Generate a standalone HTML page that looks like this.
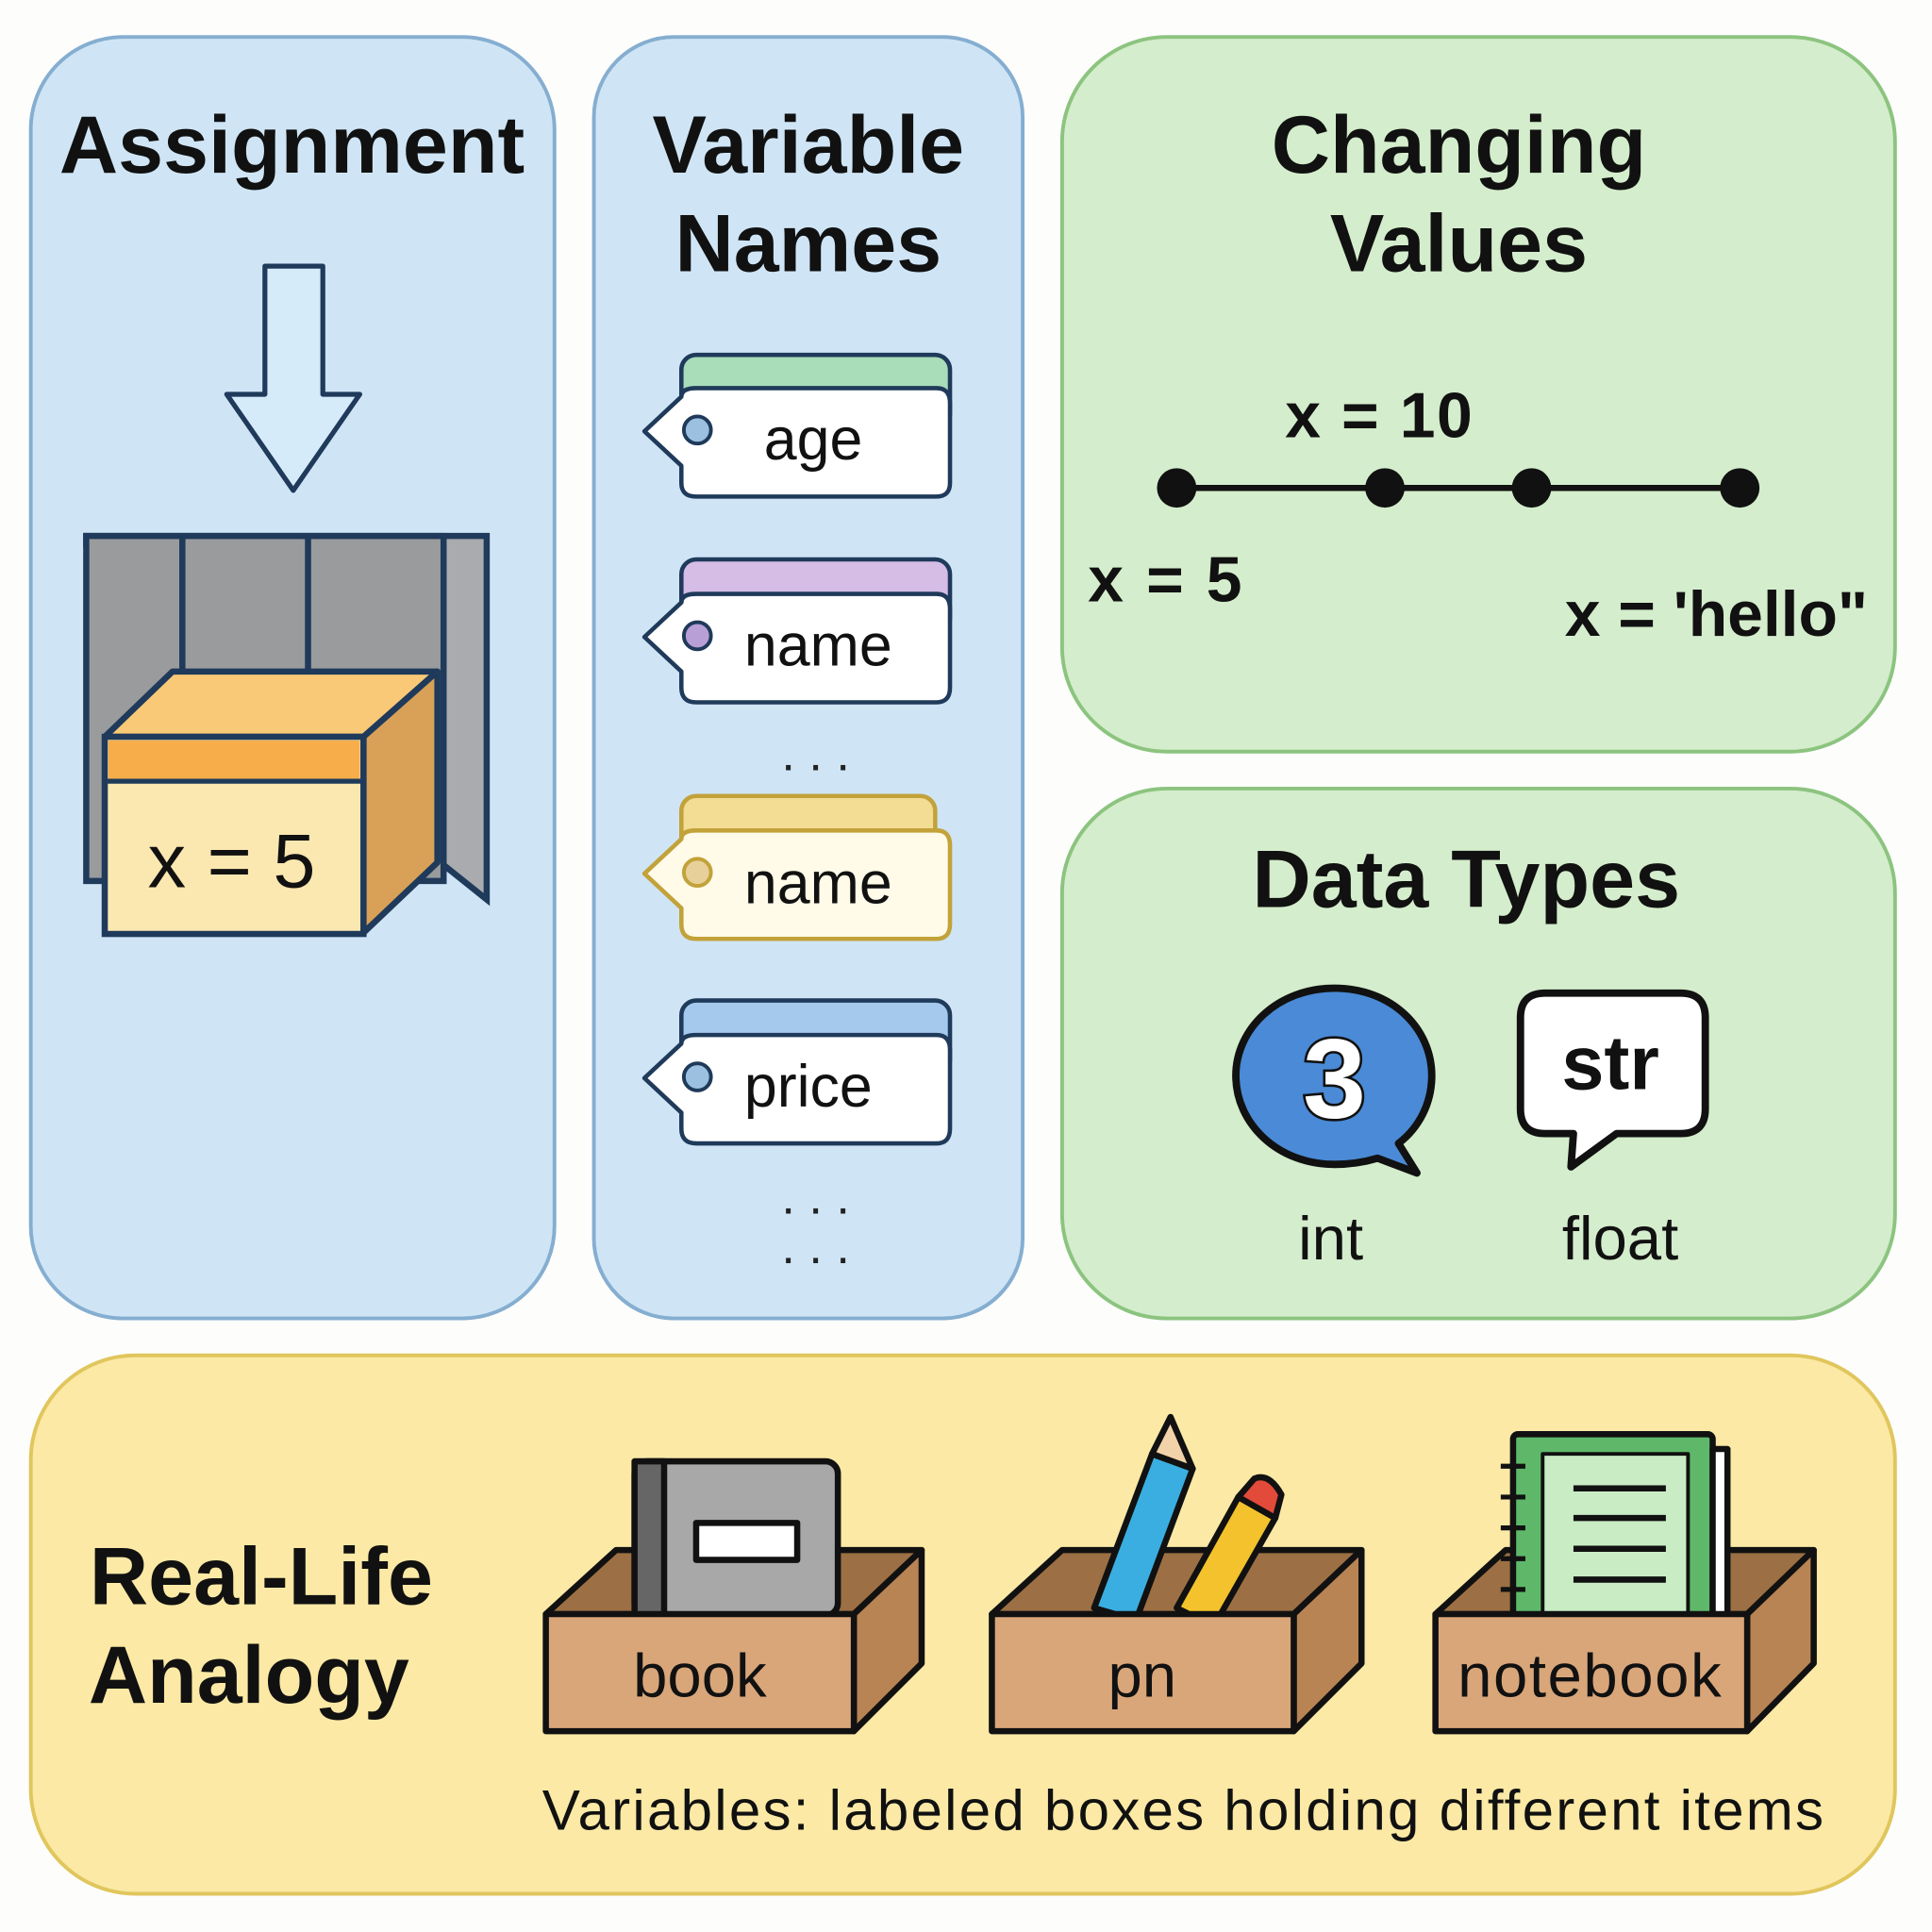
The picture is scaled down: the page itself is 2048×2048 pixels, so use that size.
<!DOCTYPE html>
<html><head><meta charset="utf-8"><style>
html,body{margin:0;padding:0;background:#fff}
svg{display:block}
text{font-family:"Liberation Sans",sans-serif}
</style></head><body>
<svg width="2048" height="2048" viewBox="0 0 1568 1568" xmlns="http://www.w3.org/2000/svg">
<rect width="1568" height="1568" fill="#fdfdfc"/>
<rect x="25" y="30" width="425" height="1040" rx="75" fill="#cfe5f6" stroke="#85aed0" stroke-width="3"/>
<rect x="482" y="30" width="348" height="1040" rx="65" fill="#cfe5f6" stroke="#85aed0" stroke-width="3"/>
<rect x="862" y="30" width="676" height="580" rx="85" fill="#d4edcc" stroke="#8cc47f" stroke-width="3"/>
<rect x="862" y="640" width="676" height="430" rx="85" fill="#d4edcc" stroke="#8cc47f" stroke-width="3"/>
<rect x="25" y="1100" width="1513" height="437" rx="85" fill="#fbe9a5" stroke="#e0c65c" stroke-width="3"/>

<g font-weight="bold" fill="#111" text-anchor="middle" font-size="66">
<text x="237" y="140">Assignment</text>
<text x="656" y="140">Variable</text>
<text x="656" y="220">Names</text>
<text x="1184" y="140">Changing</text>
<text x="1184" y="220">Values</text>
<text x="1190" y="736">Data Types</text>
<text x="212" y="1302">Real-Life</text>
<text x="202" y="1382">Analogy</text>
</g>

<path d="M215 216 H262 V320 H292 L238 398 L184 320 H215 Z" fill="#d6ebfa" stroke="#1f3a5a" stroke-width="4" stroke-linejoin="round"/>
<path d="M70 435 H395 V730 L355 698 V442 H70 Z" fill="#a9abae" stroke="#1f3a5a" stroke-width="5"/>
<rect x="70" y="435" width="290" height="280" fill="#9a9b9c" stroke="#1f3a5a" stroke-width="5"/>
<line x1="148" y1="435" x2="148" y2="545" stroke="#1f3a5a" stroke-width="5"/>
<line x1="250" y1="435" x2="250" y2="545" stroke="#1f3a5a" stroke-width="5"/>
<path d="M85 598 L140 545 H355 L295 598 Z" fill="#f9c977" stroke="#1f3a5a" stroke-width="5" stroke-linejoin="round"/>
<path d="M295 598 L355 545 V700 L295 757 Z" fill="#d9a157" stroke="#1f3a5a" stroke-width="5" stroke-linejoin="round"/>
<rect x="85" y="598" width="210" height="160" fill="#fbe7b0" stroke="#1f3a5a" stroke-width="5"/>
<rect x="88" y="601" width="204" height="33" fill="#f6ad4a"/>
<line x1="85" y1="634" x2="295" y2="634" stroke="#1f3a5a" stroke-width="4"/>
<text x="188" y="720" font-size="62" text-anchor="middle" fill="#111">x = 5</text>

<g stroke-width="3.5" stroke-linejoin="round">
<rect x="553" y="288" width="218" height="60" rx="12" fill="#a9dcb9" stroke="#1f3a5a"/>
<path d="M565 315 H760 Q771 315 771 327 V392 Q771 403 760 403 H565 Q553 403 553 392 V378 L523 350 L553 322 Q553 315 565 315 Z" fill="#fff" stroke="#1f3a5a"/>
<circle cx="566" cy="349" r="11" fill="#9cc1e0" stroke="#1f3a5a" stroke-width="3"/>
<rect x="553" y="454" width="218" height="60" rx="12" fill="#d5bde6" stroke="#1f3a5a"/>
<path d="M565 482 H760 Q771 482 771 494 V558 Q771 570 760 570 H565 Q553 570 553 558 V545 L523 517 L553 489 Q553 482 565 482 Z" fill="#fff" stroke="#1f3a5a"/>
<circle cx="566" cy="516" r="11" fill="#b89fd6" stroke="#1f3a5a" stroke-width="3"/>
<rect x="553" y="646" width="206" height="60" rx="12" fill="#f3dc94" stroke="#c2a23a"/>
<path d="M565 674 H760 Q771 674 771 686 V750 Q771 762 760 762 H565 Q553 762 553 750 V737 L523 709 L553 681 Q553 674 565 674 Z" fill="#fffbe8" stroke="#c2a23a"/>
<circle cx="566" cy="708" r="11" fill="#e8d09a" stroke="#c2a23a" stroke-width="3"/>
<rect x="553" y="812" width="218" height="60" rx="12" fill="#a4c9ec" stroke="#1f3a5a"/>
<path d="M565 840 H760 Q771 840 771 852 V916 Q771 928 760 928 H565 Q553 928 553 916 V903 L523 875 L553 847 Q553 840 565 840 Z" fill="#fff" stroke="#1f3a5a"/>
<circle cx="566" cy="874" r="11" fill="#9cc1e0" stroke="#1f3a5a" stroke-width="3"/>
</g>
<g font-size="48" fill="#111">
<text x="620" y="373">age</text>
<text x="604" y="540">name</text>
<text x="604" y="733">name</text>
<text x="604" y="898">price</text>
</g>
<g fill="#222" font-size="40" text-anchor="middle">
<text x="662" y="625">. . .</text>
<text x="662" y="985">. . .</text>
<text x="662" y="1025">. . .</text>
</g>

<line x1="955" y1="396" x2="1412" y2="396" stroke="#111" stroke-width="5"/>
<g fill="#111"><circle cx="955" cy="396" r="16"/><circle cx="1124" cy="396" r="16"/><circle cx="1243" cy="396" r="16"/><circle cx="1412" cy="396" r="16"/></g>
<g font-weight="bold" font-size="52" fill="#111">
<text x="1043" y="355" textLength="152">x = 10</text>
<text x="883" y="488" textLength="125">x = 5</text>
<text x="1270" y="516" textLength="246">x = 'hello"</text>
</g>

<path d="M1083 802 C1130 802 1162 835 1162 873 C1162 895 1152 915 1135 928 L1150 952 L1118 940 C1108 943 1096 945 1083 945 C1037 945 1003 912 1003 873 C1003 835 1037 802 1083 802 Z" fill="#4a8ad6" stroke="#111" stroke-width="6" stroke-linejoin="round"/>
<text x="1083" y="907" font-size="92" font-weight="bold" fill="#fff" stroke="#111" stroke-width="4" text-anchor="middle" paint-order="stroke">3</text>
<path d="M1254 806 H1364 Q1384 806 1384 826 V900 Q1384 920 1364 920 H1312 L1275 947 L1277 920 H1254 Q1234 920 1234 900 V826 Q1234 806 1254 806 Z" fill="#fff" stroke="#111" stroke-width="6" stroke-linejoin="round"/>
<text x="1307" y="884" font-size="62" font-weight="bold" fill="#111" text-anchor="middle">str</text>
<g font-size="50" fill="#111" text-anchor="middle">
<text x="1080" y="1022">int</text>
<text x="1315" y="1022">float</text>
</g>

<g stroke="#111" stroke-width="5" stroke-linejoin="round">
<path d="M443 1310 L500 1258 H748 L693 1310 Z" fill="#9c7044"/>
<rect x="515" y="1186" width="165" height="125" rx="10" fill="#a8a8a8"/>
<rect x="515" y="1186" width="24" height="125" fill="#666"/>
<rect x="565" y="1236" width="82" height="30" fill="#fff"/>
<path d="M693 1310 L748 1258 V1350 L693 1405 Z" fill="#b88454"/>
<rect x="443" y="1310" width="250" height="95" fill="#d9a67a"/>

<path d="M805 1310 L862 1258 H1105 L1050 1310 Z" fill="#9c7044"/>
<path d="M888 1305 L935 1180 L968 1192 L922 1315 Z" fill="#3aaee0"/>
<path d="M935 1180 L950 1150 L968 1192 Z" fill="#f2d2a8"/>
<path d="M955 1305 L1005 1215 L1035 1232 L985 1320 Z" fill="#f3c22c"/>
<path d="M1005 1215 L1018 1200 Q1030 1195 1040 1213 L1035 1232 Z" fill="#e24a3a"/>
<path d="M1050 1310 L1105 1258 V1350 L1050 1405 Z" fill="#b88454"/>
<rect x="805" y="1310" width="245" height="95" fill="#d9a67a"/>

<path d="M1165 1310 L1222 1258 H1472 L1418 1310 Z" fill="#9c7044"/>
<rect x="1228" y="1164" width="162" height="150" rx="4" fill="#5fb86a"/>
<rect x="1252" y="1180" width="118" height="130" fill="#c9ecc4" stroke-width="3"/>
<rect x="1390" y="1176" width="12" height="135" fill="#fff"/>
<path d="M1277 1208 H1352 M1277 1232 H1352 M1277 1257 H1352 M1277 1282 H1352" stroke-width="5"/>
<path d="M1218 1190 h20 M1218 1215 h20 M1218 1240 h20 M1218 1265 h20 M1218 1290 h20" stroke-width="4"/>
<path d="M1418 1310 L1472 1258 V1350 L1418 1405 Z" fill="#b88454"/>
<rect x="1165" y="1310" width="253" height="95" fill="#d9a67a"/>
</g>
<g font-size="50" fill="#111" text-anchor="middle">
<text x="568" y="1377">book</text>
<text x="927" y="1377">pn</text>
<text x="1290" y="1377" textLength="214">notebook</text>
</g>
<text x="440" y="1485" font-size="46" fill="#111" textLength="1040">Variables: labeled boxes holding different items</text>
</svg>
</body></html>
